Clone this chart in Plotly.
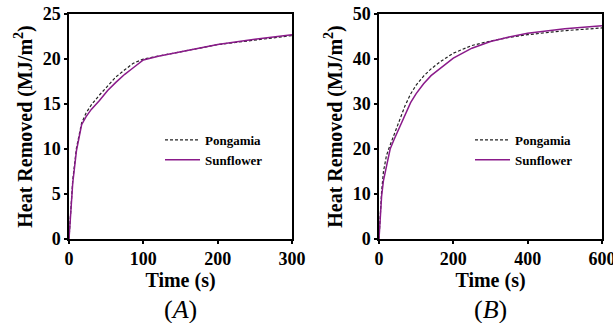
import plotly.graph_objects as go

# Panel A: 0-300 s
time_a = [0, 2, 5, 10, 15, 17, 23, 30, 41, 52, 63, 75, 86, 100, 120, 150, 200, 250, 300]
sunflower_a = [0, 2.5, 6.2, 9.8, 12.0, 12.7, 13.6, 14.4, 15.4, 16.5, 17.4, 18.3, 19.0, 19.9, 20.3, 20.8, 21.6, 22.2, 22.7]
pongamia_a = [0, 2.7, 6.5, 10.1, 12.2, 12.9, 14.0, 14.9, 16.0, 17.0, 18.0, 18.8, 19.5, 20.0, 20.3, 20.8, 21.6, 22.1, 22.6]

# Panel B: 0-600 s
time_b_sun = [0, 3, 7, 12, 21.5, 30, 40, 55, 70, 85, 100, 120, 140, 165, 200, 250, 300, 350, 400, 500, 600]
sunflower_b = [0, 5.0, 9.5, 13.0, 16.8, 20.0, 22.0, 24.8, 27.8, 30.3, 32.3, 34.5, 36.3, 38.0, 40.2, 42.4, 43.9, 44.9, 45.7, 46.7, 47.4]
time_b_pong = [0, 3, 7, 12, 20, 26, 40, 55, 70, 85, 100, 120, 140, 165, 200, 250, 300, 350, 400, 500, 600]
pongamia_b = [0, 5.5, 10.5, 15.0, 18.5, 20.0, 23.0, 26.2, 29.6, 32.2, 34.2, 36.2, 37.8, 39.4, 41.3, 43.0, 44.0, 44.8, 45.4, 46.3, 46.9]

SERIF = "Times New Roman, Liberation Serif, serif"
PURPLE = "#8a1a8a"

fig = go.Figure()

def add_pair(t_pong, pong, t_sun, sun, xa, ya, leg):
    fig.add_trace(go.Scatter(x=t_pong, y=pong, mode="lines", name="Pongamia",
                             line=dict(color="#222222", width=1.2, dash="3px,2px"),
                             xaxis=xa, yaxis=ya, legend=leg))
    fig.add_trace(go.Scatter(x=t_sun, y=sun, mode="lines", name="Sunflower",
                             line=dict(color=PURPLE, width=1.5),
                             xaxis=xa, yaxis=ya, legend=leg))

add_pair(time_a, pongamia_a, time_a, sunflower_a, "x", "y", "legend")
add_pair(time_b_pong, pongamia_b, time_b_sun, sunflower_b, "x2", "y2", "legend2")

tickfont = dict(family=SERIF, size=18, color="black", weight="bold")
titlefont = dict(family=SERIF, size=20, color="black", weight="bold")
common = dict(showline=True, linecolor="black", linewidth=1.5, mirror=True,
              ticks="outside", ticklen=3, tickwidth=1.5, tickcolor="black",
              showgrid=False, zeroline=False, tickfont=tickfont, automargin=False,
              ticklabeloverflow="allow")

ydom = [1 - 239 / 323, 1 - 14 / 323]
legfont = dict(family=SERIF, size=13, color="black", weight="bold")
fig.update_layout(
    template="none",
    width=613, height=323,
    margin=dict(l=0, r=0, t=0, b=0),
    paper_bgcolor="white", plot_bgcolor="white",
    xaxis=dict(domain=[69 / 613, 292 / 613], range=[0, 300], tickvals=[0, 100, 200, 300],
               title=dict(text="Time (s)", font=titlefont, standoff=3), anchor="y", **common),
    yaxis=dict(domain=ydom, range=[0, 25], tickvals=[0, 5, 10, 15, 20, 25],
               title=dict(text="Heat Removed (MJ/m<sup>2</sup>)", font=titlefont, standoff=5), anchor="x", **common),
    xaxis2=dict(domain=[379 / 613, 602 / 613], range=[0, 600], tickvals=[0, 200, 400, 600],
                title=dict(text="Time (s)", font=titlefont, standoff=3), anchor="y2", **common),
    yaxis2=dict(domain=ydom, range=[0, 50], tickvals=[0, 10, 20, 30, 40, 50],
                title=dict(text="Heat Removed (MJ/m<sup>2</sup>)", font=titlefont, standoff=5), anchor="x2", **common),
    legend=dict(x=160 / 613, y=1 - 125 / 323, xanchor="left", yanchor="top",
                bgcolor="rgba(0,0,0,0)", itemwidth=35, tracegroupgap=0, font=legfont),
    legend2=dict(x=470 / 613, y=1 - 125 / 323, xanchor="left", yanchor="top",
                 bgcolor="rgba(0,0,0,0)", itemwidth=35, tracegroupgap=0, font=legfont),
    showlegend=True,
)

for label, xc in [("(<i>A</i>)", 180 / 613), ("(<i>B</i>)", 490 / 613)]:
    fig.add_annotation(text=label, x=xc, y=1 - 309 / 323, xref="paper", yref="paper",
                       xanchor="center", yanchor="middle",
                       showarrow=False, font=dict(family=SERIF, size=26, color="black"))

fig.write_html("out.html")
